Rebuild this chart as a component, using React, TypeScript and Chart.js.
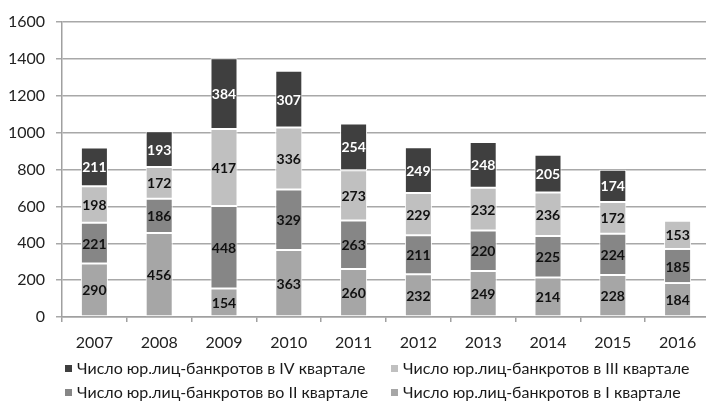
import React, { useEffect, useRef } from "react";
import { Chart, registerables } from "chart.js";

Chart.register(...registerables);

const years = ["2007", "2008", "2009", "2010", "2011", "2012", "2013", "2014", "2015", "2016"];
const q1 = [290, 456, 154, 363, 260, 232, 249, 214, 228, 184];
const q2 = [221, 186, 448, 329, 263, 211, 220, 225, 224, 185];
const q3 = [198, 172, 417, 336, 273, 229, 232, 236, 172, 153];
const q4 = [211, 193, 384, 307, 254, 249, 248, 205, 174, null];
const seriesLabels = [
  "Число юр.лиц-банкротов в I квартале",
  "Число юр.лиц-банкротов во II квартале",
  "Число юр.лиц-банкротов в III квартале",
  "Число юр.лиц-банкротов в IV квартале",
];
const seriesColors = ["#a6a6a6", "#868686", "#c0c0c0", "#3f3f3f"];
const valueColors = ["#111111", "#111111", "#111111", "#ffffff"];
const legendOrder = [3, 2, 1, 0];
const yMax = 1600;
const yStep = 200;

const FONT = "Lato, 'Open Sans', sans-serif";

const valueLabels = {
  id: "valueLabels",
  afterDatasetsDraw(chart: any) {
    const ctx = chart.ctx;
    ctx.save();
    ctx.font = `bold 14px ${FONT}`;
    ctx.textAlign = "center";
    ctx.textBaseline = "middle";
    chart.data.datasets.forEach((ds: any, di: number) => {
      const meta = chart.getDatasetMeta(di);
      meta.data.forEach((bar: any, i: number) => {
        const v = ds.data[i];
        if (v == null) return;
        const { x, y, base } = bar.getProps(["x", "y", "base"], true);
        ctx.fillStyle = valueColors[di];
        ctx.fillText(String(v), x, (y + base) / 2 + 1);
      });
    });
    ctx.restore();
  },
};

const twoColumnLegend = {
  id: "twoColumnLegend",
  afterDraw(chart: any) {
    const ctx = chart.ctx;
    const area = chart.chartArea;
    const colX = [area.left + 3, area.left + 329];
    const rowY = [area.bottom + 52, area.bottom + 76];
    ctx.save();
    ctx.font = `16px ${FONT}`;
    ctx.textBaseline = "middle";
    ctx.textAlign = "left";
    legendOrder.forEach((di, k) => {
      const x = colX[k % 2];
      const y = rowY[Math.floor(k / 2)];
      ctx.fillStyle = seriesColors[di];
      ctx.fillRect(x, y - 4, 7, 7);
      ctx.fillStyle = "#1a1a1a";
      ctx.fillText(chart.data.datasets[di].label, x + 12, y);
    });
    ctx.restore();
  },
};

export default function App() {
  const ref = useRef<HTMLCanvasElement | null>(null);

  useEffect(() => {
    if (!ref.current) return;
    const data = [q1, q2, q3, q4];
    const chart = new Chart(ref.current, {
      type: "bar",
      data: {
        labels: years,
        datasets: data.map((d, i) => ({
          label: seriesLabels[i],
          data: d,
          backgroundColor: seriesColors[i],
          borderColor: "#ffffff",
          borderWidth: 1,
          borderSkipped: false,
          barPercentage: 0.417,
          categoryPercentage: 1,
        })),
      },
      options: {
        responsive: false,
        animation: false,
        devicePixelRatio: 1,
        layout: { padding: { left: 0, right: 2, top: 22, bottom: 50 } },
        plugins: {
          legend: { display: false },
          tooltip: { enabled: false },
        },
        scales: {
          x: {
            stacked: true,
            offset: true,
            grid: {
              offset: true,
              drawOnChartArea: false,
              drawTicks: true,
              tickLength: 5,
              color: "#a0a0a0",
              lineWidth: 1.5,
            },
            border: { display: true, color: "#a0a0a0", width: 1.5 },
            ticks: {
              font: { family: FONT, size: 16 },
              color: "#222222",
              padding: 11,
              maxRotation: 0,
              autoSkip: false,
            },
            afterFit(scale: any) {
              scale.height = 35;
            },
          },
          y: {
            stacked: true,
            min: 0,
            max: yMax,
            ticks: {
              stepSize: yStep,
              font: { family: FONT, size: 16 },
              color: "#222222",
              padding: 11,
              callback: (v: any) => String(v),
            },
            grid: {
              color: "#a8a8a8",
              lineWidth: 1.5,
              tickLength: 6,
              drawTicks: true,
            },
            border: { display: true, color: "#a0a0a0", width: 1.5 },
            afterFit(scale: any) {
              scale.width = 62;
            },
          },
        },
      },
      plugins: [valueLabels, twoColumnLegend],
    });
    return () => chart.destroy();
  }, []);

  return (
    <div
      style={{
        position: "absolute",
        left: 0,
        top: 0,
        width: 706,
        height: 402,
        overflow: "hidden",
        background: "#ffffff",
      }}
    >
      <canvas ref={ref} width={712} height={402} style={{ display: "block" }} />
    </div>
  );
}
